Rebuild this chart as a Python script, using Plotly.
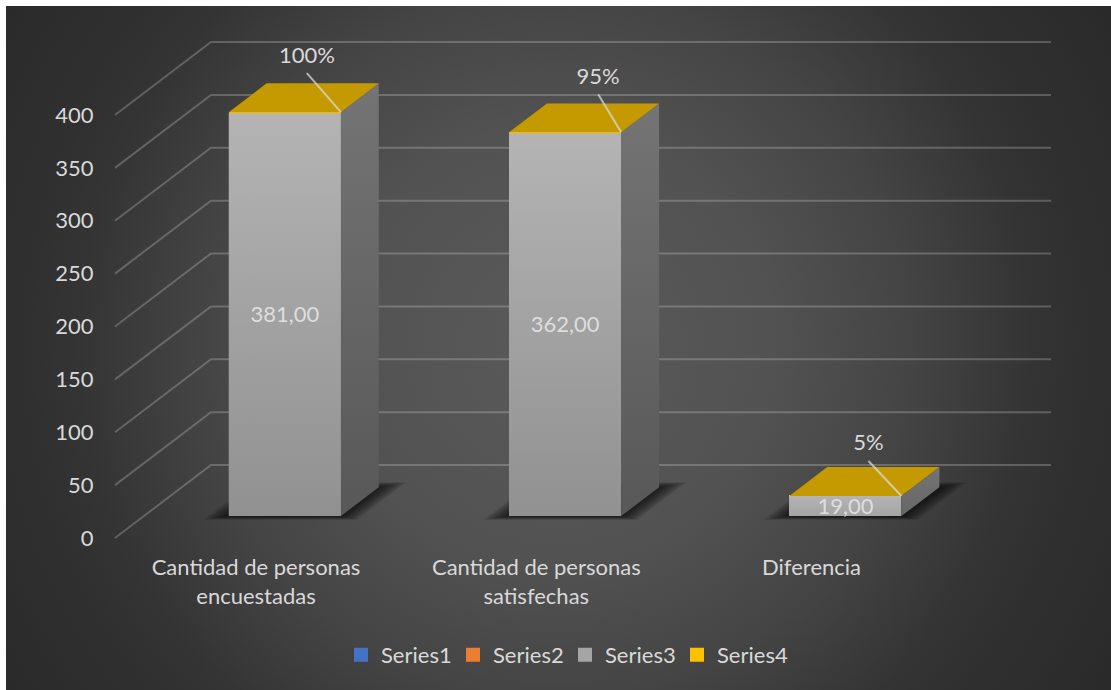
import plotly.graph_objects as go

# ---------- data ----------
categories = ["Cantidad de personas<br>encuestadas", "Cantidad de personas<br>satisfechas", "Diferencia"]
category_label_pos = [0, 1, 1.982]
series1 = [None, None, None]
series2 = [None, None, None]
series3 = [381, 362, 19]
series4 = [1.00, 0.95, 0.05]
value_labels = ["381,00", "362,00", "19,00"]
pct_labels = ["100%", "95%", "5%"]
y_ticks = [0, 50, 100, 150, 200, 250, 300, 350, 400]

# ---------- geometry of the oblique projection ----------
W, H = 1111, 690
PX_X = 280.3      # pixels per category
PX_Y = 1.0575     # pixels per value unit
X0_PX, Y0_PX = 256, 538   # pixel of category 0 / value 0 on the front plane
DX = 96 / PX_X    # shift, in x units, of one full depth
DY = 73 / PX_Y    # shift, in y units, of one full depth
D0, D1 = 0.30, 0.695      # bar depth extent
BAR_W = 0.4
LEFT, TOP = 6, 6


def data_x(px):
    return (px - X0_PX) / PX_X


def data_y(px):
    return (Y0_PX - px) / PX_Y


x_range = [data_x(LEFT), data_x(W)]
y_range = [data_y(H), data_y(TOP)]


def proj(x, v, d):
    return x + d * DX, v + d * DY


def poly(points, **kw):
    xs = [p[0] for p in points] + [points[0][0]]
    ys = [p[1] for p in points] + [points[0][1]]
    return go.Scatter(x=xs, y=ys, mode="lines", fill="toself", hoverinfo="skip",
                      showlegend=False, **kw)


TXT = "#d9d9d9"
FONT = "Lato"
FS = 22
fig = go.Figure()

# background (main subplot)
cx, cy, hw, hh = 555, 345, 700, 700
fig.add_trace(poly(
    [(data_x(cx - hw), data_y(cy - hh)), (data_x(cx + hw), data_y(cy - hh)),
     (data_x(cx + hw), data_y(cy + hh)), (data_x(cx - hw), data_y(cy + hh))],
    line=dict(width=0), xaxis="x", yaxis="y",
    fillgradient=dict(type="radial", colorscale=[
        [0, "#5a5a5a"], [0.31, "#525252"], [0.51, "#444444"], [0.68, "#343434"],
        [0.75, "#303030"], [0.93, "#2a2a2a"], [1, "#292929"]]),
))

# gridlines: diagonal on the floor side plus horizontal on the back wall
x_left = data_x(115)
x_right = data_x(1051)
for t in y_ticks:
    bx, by = proj(x_left, t, 1)
    fig.add_trace(go.Scatter(x=[x_left, bx, x_right], y=[t, by, by], mode="lines",
                             line=dict(color="rgba(217,217,217,0.27)", width=2),
                             hoverinfo="skip", showlegend=False, xaxis="x", yaxis="y"))

# soft floor shadows
STEPS = 10
for i in range(len(categories)):
    l, r = i - BAR_W / 2, i + BAR_W / 2
    for step in range(STEPS):
        e = 1 - step / STEPS
        grow = e * 21 / PX_X
        d_a, d_b = D0 - e * 0.05, D1 + e * 0.07
        pts = [proj(l - grow, 0, d_a), proj(r + grow, 0, d_a),
               proj(r + grow, 0, d_b), proj(l - grow, 0, d_b)]
        fig.add_trace(poly(pts, line=dict(width=0), fillcolor="rgba(0,0,0,0.085)",
                           xaxis="x", yaxis="y"))

# bars (overlay subplot, above the walls)
bar_x = [i + D0 * DX for i in range(len(categories))]
base3 = [D0 * DY] * len(categories)
base4 = [b + v for b, v in zip(base3, series3)]
series = [("Series1", series1, base3, "#4472c4"),
          ("Series2", series2, base3, "#ed7d31"),
          ("Series3", series3, base3, "#a5a5a5"),
          ("Series4", series4, base4, "#ffc000")]
for name, vals, base, col in series:
    fig.add_trace(go.Bar(name=name, x=bar_x, y=vals, base=base, width=BAR_W,
                         marker=dict(color=col, line=dict(width=0)), showlegend=False,
                         hoverinfo="skip", xaxis="x2", yaxis="y2"))
    # legend key only: no drawn mark, outlined so that the key is a 14 px square
    fig.add_trace(go.Bar(name=name, x=[None], y=[None],
                         marker=dict(color=col, line=dict(width=2, color=col)),
                         hoverinfo="skip", xaxis="x2", yaxis="y2"))

for i, (v3, v4) in enumerate(zip(series3, series4)):
    l, r = i - BAR_W / 2, i + BAR_W / 2
    top = v3 + v4
    small = v3 < 100
    fig.add_trace(poly([proj(l, 0, D0), proj(r, 0, D0), proj(r, v3, D0), proj(l, v3, D0)],
                       line=dict(width=0), xaxis="x2", yaxis="y2",
                       fillgradient=dict(type="vertical", colorscale=[
                           [0, "#a4a4a4" if small else "#919191"], [1, "#b4b4b4"]])))
    fig.add_trace(poly([proj(r, 0, D0), proj(r, 0, D1), proj(r, top, D1), proj(r, top, D0)],
                       line=dict(width=0), xaxis="x2", yaxis="y2",
                       fillgradient=dict(type="vertical", colorscale=[
                           [0, "#666666" if small else "#585858"], [1, "#747474"]])))
    fig.add_trace(poly([proj(l, top, D0), proj(r, top, D0), proj(r, top, D1), proj(l, top, D1)],
                       line=dict(width=0), fillcolor="#c49a00", xaxis="x2", yaxis="y2"))

# value labels, centred on each front face
label_drop = 2 / PX_Y
fig.add_trace(go.Scatter(
    x=[i + D0 * DX for i in range(len(categories))],
    y=[D0 * DY + v / 2 - label_drop for v in series3],
    mode="text", text=value_labels, textposition="middle center",
    textfont=dict(family=FONT, size=FS, color="#dedede"),
    hoverinfo="skip", showlegend=False, xaxis="x2", yaxis="y2"))

# percent labels with leader lines
pct_dx_px = [-34, -23, -33]
pct_dy_px = [55, 54, 51]
gap_px = 16
for i, (v3, v4) in enumerate(zip(series3, series4)):
    cxr, cyr = proj(i + BAR_W / 2, v3 + v4, D0)
    lx = cxr + pct_dx_px[i] / PX_X
    ly = cyr + pct_dy_px[i] / PX_Y
    fig.add_trace(go.Scatter(x=[lx, cxr], y=[ly - gap_px / PX_Y, cyr], mode="lines",
                             line=dict(color="rgba(217,217,217,0.75)", width=2),
                             hoverinfo="skip", showlegend=False, xaxis="x2", yaxis="y2"))
    fig.add_trace(go.Scatter(x=[lx], y=[ly], mode="text", text=[pct_labels[i]],
                             textposition="middle center",
                             textfont=dict(family=FONT, size=FS, color=TXT),
                             hoverinfo="skip", showlegend=False, xaxis="x2", yaxis="y2"))

x_dom = [LEFT / W, 1]
y_dom = [0, 1 - TOP / H]
fig.update_layout(
    width=W, height=H, autosize=False,
    margin=dict(l=0, r=0, t=0, b=0, pad=0),
    paper_bgcolor="white", plot_bgcolor="#3a3a3a",
    barmode="overlay", bargap=0,
    font=dict(family=FONT, size=FS, color=TXT),
    xaxis=dict(domain=x_dom, range=x_range, tickmode="array", tickvals=category_label_pos,
               ticktext=categories, showgrid=False, zeroline=False, showline=False,
               anchor="free", position=(H - 547) / H, ticks="outside", ticklen=1,
               tickcolor="rgba(0,0,0,0)", tickfont=dict(family=FONT, size=FS, color=TXT)),
    yaxis=dict(domain=y_dom, range=y_range, tickmode="array", tickvals=y_ticks,
               showgrid=False, zeroline=False, showline=False,
               anchor="free", position=115 / W, ticks="outside", ticklen=17,
               tickcolor="rgba(0,0,0,0)", tickfont=dict(family=FONT, size=FS, color=TXT)),
    xaxis2=dict(domain=x_dom, range=x_range, overlaying="x", visible=False),
    yaxis2=dict(domain=y_dom, range=y_range, overlaying="y", visible=False, anchor="x2"),
    legend=dict(orientation="h", x=565 / W, xanchor="center", y=(H - 655) / H, yanchor="middle",
                bgcolor="rgba(0,0,0,0)", font=dict(family=FONT, size=FS, color=TXT),
                entrywidth=67, entrywidthmode="pixels", itemclick=False, itemdoubleclick=False),
)

fig.write_html("out.html", config=dict(displayModeBar=False),
               post_script="document.body.style.margin='0';")
